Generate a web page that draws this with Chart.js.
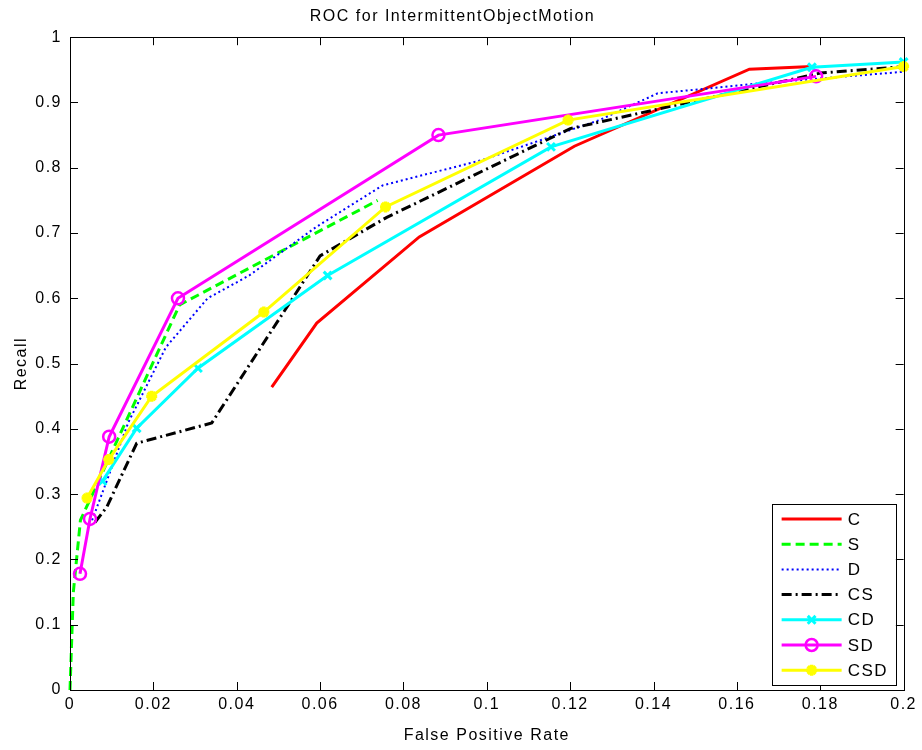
<!DOCTYPE html>
<html>
<head>
<meta charset="utf-8">
<script src="https://cdn.jsdelivr.net/npm/chart.js@4/dist/chart.umd.min.js"></script>
<style>
  html, body { margin: 0; padding: 0; background: #fff; }
  #wrap { width: 922px; height: 750px; }
</style>
</head>
<body>
<div id="wrap"><canvas id="rocChart" width="922" height="750"></canvas></div>
<script>
const seriesNames = ['C', 'S', 'D', 'CS', 'CD', 'SD', 'CSD'];

const cX = [0.0484, 0.0592, 0.0838, 0.121, 0.163, 0.178];
const cY = [0.464, 0.562, 0.694, 0.833, 0.951, 0.955];

const sX = [0, 0.0008, 0.0025, 0.0263, 0.0738];
const sY = [0, 0.15, 0.26, 0.59, 0.75];

const dX = [0.0053, 0.0088, 0.014, 0.023, 0.033, 0.043, 0.059, 0.075, 0.099, 0.127, 0.141, 0.165, 0.2];
const dY = [0.26, 0.32, 0.41, 0.525, 0.6, 0.635, 0.709, 0.773, 0.812, 0.873, 0.914, 0.929, 0.947];

const csX = [0.006, 0.0088, 0.016, 0.034, 0.06, 0.076, 0.12, 0.18, 0.2];
const csY = [0.257, 0.28, 0.378, 0.409, 0.665, 0.724, 0.86, 0.945, 0.955];

const cdX = [0.0078, 0.016, 0.0307, 0.0618, 0.1154, 0.178, 0.2];
const cdY = [0.32, 0.401, 0.493, 0.635, 0.832, 0.954, 0.962];

const sdX = [0.0024, 0.0048, 0.0094, 0.0259, 0.0884, 0.179];
const sdY = [0.178, 0.262, 0.388, 0.60, 0.85, 0.940];

const csdX = [0.0041, 0.0093, 0.0196, 0.0465, 0.0757, 0.1195, 0.2];
const csdY = [0.294, 0.353, 0.45, 0.579, 0.74, 0.873, 0.955];

const toPoints = (xs, ys) => xs.map((x, i) => ({x: x, y: ys[i]}));

const fontFamily = '"Liberation Sans", Arial, Helvetica, sans-serif';

// matlab style: ticks pointing inward on all four sides + closed box
const boxTicks = {
    id: 'boxTicks',
    afterDraw(chart) {
        const ctx = chart.ctx;
        const a = chart.chartArea;
        const xs = chart.scales.x, ys = chart.scales.y;
        ctx.save();
        ctx.setLineDash([]);
        ctx.strokeStyle = '#000';
        ctx.lineWidth = 1;
        ctx.beginPath();
        xs.ticks.forEach(t => {
            const px = Math.round(xs.getPixelForValue(t.value)) + 0.5;
            ctx.moveTo(px, a.bottom); ctx.lineTo(px, a.bottom - 8);
            ctx.moveTo(px, a.top); ctx.lineTo(px, a.top + 8);
        });
        ys.ticks.forEach(t => {
            const py = Math.round(ys.getPixelForValue(t.value)) + 0.5;
            ctx.moveTo(a.left, py); ctx.lineTo(a.left + 8, py);
            ctx.moveTo(a.right, py); ctx.lineTo(a.right - 8, py);
        });
        ctx.stroke();
        ctx.strokeRect(Math.round(a.left) + 0.5, Math.round(a.top) + 0.5,
            Math.round(a.right - a.left), Math.round(a.bottom - a.top));
        ctx.restore();
    }
};

const legendBox = {
    id: 'legendBox',
    afterDraw(chart) {
        const ctx = chart.ctx;
        const a = chart.chartArea;
        const x0 = a.right - 132, y0 = a.bottom - 186;
        ctx.save();
        ctx.fillStyle = '#fff';
        ctx.fillRect(x0, y0, 124, 181);
        ctx.strokeStyle = '#000';
        ctx.lineWidth = 1;
        ctx.setLineDash([]);
        ctx.strokeRect(Math.round(x0) + 0.5, Math.round(y0) + 0.5, 124, 181);
        chart.data.datasets.forEach((ds, i) => {
            const y = y0 + 15 + i * 25.2;
            ctx.save();
            ctx.strokeStyle = ds.borderColor;
            ctx.lineWidth = ds.borderWidth;
            ctx.setLineDash(ds.borderDash || []);
            ctx.beginPath();
            ctx.moveTo(x0 + 10, y);
            ctx.lineTo(x0 + 70, y);
            ctx.stroke();
            ctx.setLineDash([]);
            if (ds.pointRadius > 0) {
                ctx.fillStyle = ds.pointBackgroundColor;
                ctx.strokeStyle = ds.pointBorderColor;
                ctx.lineWidth = ds.pointBorderWidth;
                Chart.helpers.drawPoint(ctx, {
                    pointStyle: ds.pointStyle,
                    radius: ds.pointRadius,
                    borderWidth: ds.pointBorderWidth,
                    rotation: 0
                }, x0 + 40, y);
            }
            ctx.restore();
            ctx.fillStyle = '#000';
            ctx.font = '17px ' + fontFamily;
            ctx.textBaseline = 'middle';
            ctx.textAlign = 'left';
            ctx.fillText(seriesNames[i], x0 + 76, y + 1);
        });
        ctx.restore();
    }
};

// the reference text is spaced out a bit wider than the plain font
const spacing = {
    id: 'spacing',
    beforeLayout(chart) { chart.ctx.letterSpacing = '1.5px'; },
    beforeDraw(chart) { chart.ctx.letterSpacing = '1.5px'; }
};

function line(idx, xs, ys, color, extra) {
    return Object.assign({
        label: seriesNames[idx],
        data: toPoints(xs, ys),
        showLine: true,
        borderColor: color,
        backgroundColor: color,
        borderWidth: 3,
        pointRadius: 0,
        pointHoverRadius: 0,
        fill: false,
        tension: 0,
        clip: false,
        order: 7 - idx
    }, extra || {});
}

const ctx = document.getElementById('rocChart').getContext('2d');
const rocChart = new Chart(ctx, {
    type: 'scatter',
    data: {
        datasets: [
            line(0, cX, cY, '#ff0000'),
            line(1, sX, sY, '#00ff00', {borderDash: [9, 5]}),
            line(2, dX, dY, '#0000ff', {borderWidth: 2, borderDash: [2, 3]}),
            line(3, csX, csY, '#000000', {borderWidth: 3, borderDash: [10, 4, 2, 4]}),
            line(4, cdX, cdY, '#00ffff', {
                pointStyle: 'crossRot', pointRadius: 5.5, pointBorderWidth: 3,
                pointBorderColor: '#00ffff', pointBackgroundColor: '#00ffff'
            }),
            line(5, sdX, sdY, '#ff00ff', {
                pointStyle: 'circle', pointRadius: 6, pointBorderWidth: 2.5,
                pointBorderColor: '#ff00ff', pointBackgroundColor: 'rgba(0,0,0,0)'
            }),
            line(6, csdX, csdY, '#ffff00', {
                pointStyle: 'star', pointRadius: 5.5, pointBorderWidth: 3.5,
                pointBorderColor: '#ffff00', pointBackgroundColor: '#ffff00'
            })
        ]
    },
    options: {
        responsive: false,
        animation: false,
        devicePixelRatio: 1,
        layout: {
            padding: {left: 0, right: 17, top: 0, bottom: 0}
        },
        plugins: {
            legend: {display: false},
            tooltip: {enabled: false},
            title: {
                display: true,
                text: 'ROC for IntermittentObjectMotion',
                color: '#000',
                font: {family: fontFamily, size: 16, weight: 'normal'},
                padding: {top: 7, bottom: 11}
            }
        },
        scales: {
            x: {
                type: 'linear',
                min: 0,
                max: 0.2,
                afterFit(scale) { scale.height = 60; },
                grid: {display: false, drawTicks: false},
                border: {display: true, color: '#000', width: 1},
                ticks: {
                    stepSize: 0.02,
                    color: '#000',
                    padding: 5,
                    maxRotation: 0,
                    font: {family: fontFamily, size: 16},
                    callback: v => String(+v.toFixed(2))
                },
                title: {
                    display: true,
                    text: 'False Positive Rate',
                    color: '#000',
                    font: {family: fontFamily, size: 16},
                    padding: {top: 0, bottom: 5}
                }
            },
            y: {
                type: 'linear',
                min: 0,
                max: 1,
                afterFit(scale) { scale.width = 70; },
                grid: {display: false, drawTicks: false},
                border: {display: true, color: '#000', width: 1},
                ticks: {
                    stepSize: 0.1,
                    color: '#000',
                    padding: 8,
                    font: {family: fontFamily, size: 16},
                    callback: v => String(+v.toFixed(1))
                },
                title: {
                    display: true,
                    text: 'Recall',
                    color: '#000',
                    font: {family: fontFamily, size: 16},
                    padding: {top: 12, bottom: 0}
                }
            }
        }
    },
    plugins: [spacing, boxTicks, legendBox]
});
</script>
</body>
</html>
